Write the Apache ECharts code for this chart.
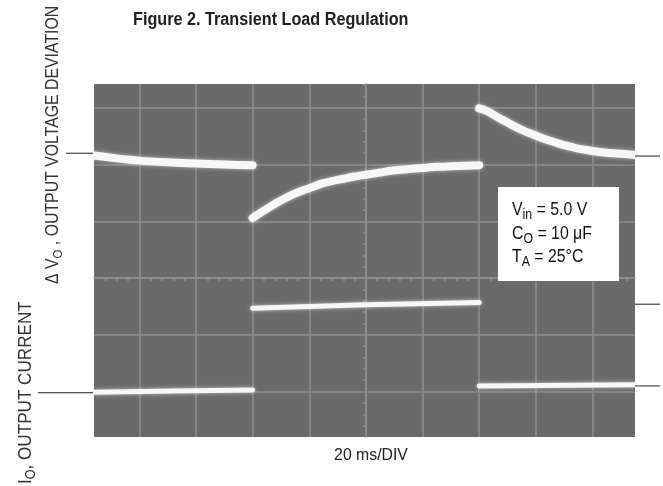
<!DOCTYPE html>
<html>
<head>
<meta charset="utf-8">
<script src="https://cdn.jsdelivr.net/npm/echarts@6/dist/echarts.min.js"></script>
<style>
html,body{margin:0;padding:0;background:#fff;}
#c{width:663px;height:486px;}
</style>
</head>
<body>
<div id="c"></div>
<script>
// ---- data (time in ms, amplitude in scope divisions) ----
const voltTime1 = [-96, -88, -80, -70, -60, -50, -40];
const voltVals1 = [2.16, 2.11, 2.07, 2.04, 2.02, 2.00, 1.99];
const voltTime2 = [-40, -37, -34, -31, -28, -25, -22, -19, -16, -12, -8, -4, 0, 5, 10, 15, 20, 25, 30, 35, 40];
const voltVals2 = [1.06, 1.16, 1.25, 1.34, 1.42, 1.49, 1.55, 1.60, 1.66, 1.71, 1.75, 1.79, 1.82, 1.86, 1.90, 1.92, 1.94, 1.96, 1.97, 1.98, 1.99];
const voltTime3 = [40, 42, 44, 47, 50, 53, 56, 59, 62, 65, 68, 71, 75, 80, 85, 90, 95];
const voltVals3 = [2.99, 2.96, 2.91, 2.82, 2.74, 2.66, 2.59, 2.53, 2.47, 2.42, 2.37, 2.33, 2.28, 2.24, 2.21, 2.19, 2.17];
const currTime1 = [-96, -68, -40];
const currVals1 = [-2.01, -1.99, -1.97];
const currTime2 = [-40, 0, 40];
const currVals2 = [-0.53, -0.47, -0.43];
const currTime3 = [40, 95];
const currVals3 = [-1.90, -1.88];
const rightLevels = [2.15, -0.46, -1.90];
const leftLevels = [2.20, -2.02];
const titleText = 'Figure 2. Transient Load Regulation';
const xLabel = '20 ms/DIV';

function seg(ts, vs) { return ts.map((t, i) => [t, vs[i]]); }
function joinSegs(list) {
  const out = [];
  list.forEach((s, i) => { if (i) out.push([s[0][0], null]); out.push(...s); });
  return out;
}
const voltData = joinSegs([seg(voltTime1, voltVals1), seg(voltTime2, voltVals2), seg(voltTime3, voltVals3)]);
const currData = joinSegs([seg(currTime1, currVals1), seg(currTime2, currVals2), seg(currTime3, currVals3)]);

const FONT = 'Liberation Sans, Arial, sans-serif';
const gridCol = '#8f8f8f';
const chart = echarts.init(document.getElementById('c'), null, {renderer: 'canvas'});
const traceStyle = (w) => ({color: '#f7f7f7', width: w, cap: 'round', join: 'round',
  shadowColor: 'rgba(255,255,255,0.55)', shadowBlur: 4});

chart.setOption({
  animation: false,
  backgroundColor: '#ffffff',
  grid: {left: 94, top: 84, width: 541, height: 353, show: true, backgroundColor: '#6a6a6a', borderWidth: 0},
  xAxis: {
    type: 'value', min: -96, max: 95, splitNumber: 10,
    axisLine: {show: true, onZero: true, lineStyle: {color: gridCol, width: 1.5}},
    axisTick: {show: false},
    minorTick: {show: true, splitNumber: 5, length: 3, lineStyle: {color: gridCol, width: 1.5}},
    axisLabel: {show: false},
    splitLine: {show: true, showMinLine: false, showMaxLine: false, lineStyle: {color: gridCol, width: 1.5}}
  },
  yAxis: {
    type: 'value', min: -2.8, max: 3.42, splitNumber: 6,
    axisLine: {show: true, onZero: true, lineStyle: {color: gridCol, width: 1.5}},
    axisTick: {show: false},
    minorTick: {show: true, splitNumber: 5, length: 3, lineStyle: {color: gridCol, width: 1.5}},
    axisLabel: {show: false},
    splitLine: {show: true, showMinLine: false, showMaxLine: false, lineStyle: {color: gridCol, width: 1.5}}
  },
  series: [
    {type: 'line', data: voltData, showSymbol: false, smooth: 0.25, connectNulls: false, lineStyle: traceStyle(8), silent: true},
    {type: 'line', data: currData, showSymbol: false, connectNulls: false, lineStyle: traceStyle(5), silent: true}
  ]
});

const px = (x, y) => chart.convertToPixel({gridIndex: 0}, [x, y]);
const elements = [];
// title and x label
elements.push({type: 'text', x: 133, y: 20, scaleX: 0.9, style: {text: titleText, font: 'bold 18px ' + FONT, fill: '#222', textAlign: 'left', textVerticalAlign: 'middle'}});
elements.push({type: 'text', x: 371, y: 455, scaleX: 0.93, style: {text: xLabel, font: '17px ' + FONT, fill: '#222', textAlign: 'center', textVerticalAlign: 'middle'}});
// rotated axis labels
const sideRich = (m, s, pad) => ({m: {font: m + 'px ' + FONT, fill: '#333', lineHeight: 24}, s: {font: s + 'px ' + FONT, fill: '#333', lineHeight: s, verticalAlign: 'bottom', padding: [pad, 0, 0, 0]}});
elements.push({type: 'text', x: 53, y: 284, rotation: Math.PI / 2, scaleX: 0.88, style: {
  text: '{m|Δ V}{s|O}{m| , OUTPUT VOLTAGE DEVIATION}', textAlign: 'left', textVerticalAlign: 'middle',
  rich: sideRich(18, 13, 11)
}});
elements.push({type: 'text', x: 26, y: 484, rotation: Math.PI / 2, scaleX: 0.9, style: {
  text: '{m|I}{s|O}{m|, OUTPUT CURRENT}', textAlign: 'left', textVerticalAlign: 'middle',
  rich: sideRich(19, 14, 10)
}});
// level marker lines
const left = px(-96, 0)[0], right = px(95, 0)[0];
rightLevels.forEach(v => { const y = px(0, v)[1]; elements.push({type: 'line', z: 100, shape: {x1: right, y1: y, x2: right + 25, y2: y}, style: {stroke: '#222', lineWidth: 1}}); });
const leftStarts = [66, 38];
leftLevels.forEach((v, i) => { const y = px(0, v)[1]; elements.push({type: 'line', z: 100, shape: {x1: leftStarts[i], y1: y, x2: left - 1, y2: y}, style: {stroke: '#222', lineWidth: 1}}); });
// conditions box
elements.push({type: 'rect', z: 100, shape: {x: 498, y: 187, width: 121, height: 94}, style: {fill: '#fff'}});
const boxRich = {m: {font: '18px ' + FONT, fill: '#111', lineHeight: 23.5}, s: {font: '14px ' + FONT, fill: '#111', lineHeight: 14, verticalAlign: 'bottom', padding: [9, 0, 0, 0]}};
elements.push({type: 'text', z: 101, x: 512, y: 234, scaleX: 0.88, style: {
  text: '{m|V}{s|in}{m| = 5.0 V}\n{m|C}{s|O}{m| = 10 μF}\n{m|T}{s|A}{m| = 25°C}', textAlign: 'left', textVerticalAlign: 'middle', rich: boxRich
}});
chart.setOption({graphic: {elements: elements}});
</script>
</body>
</html>
